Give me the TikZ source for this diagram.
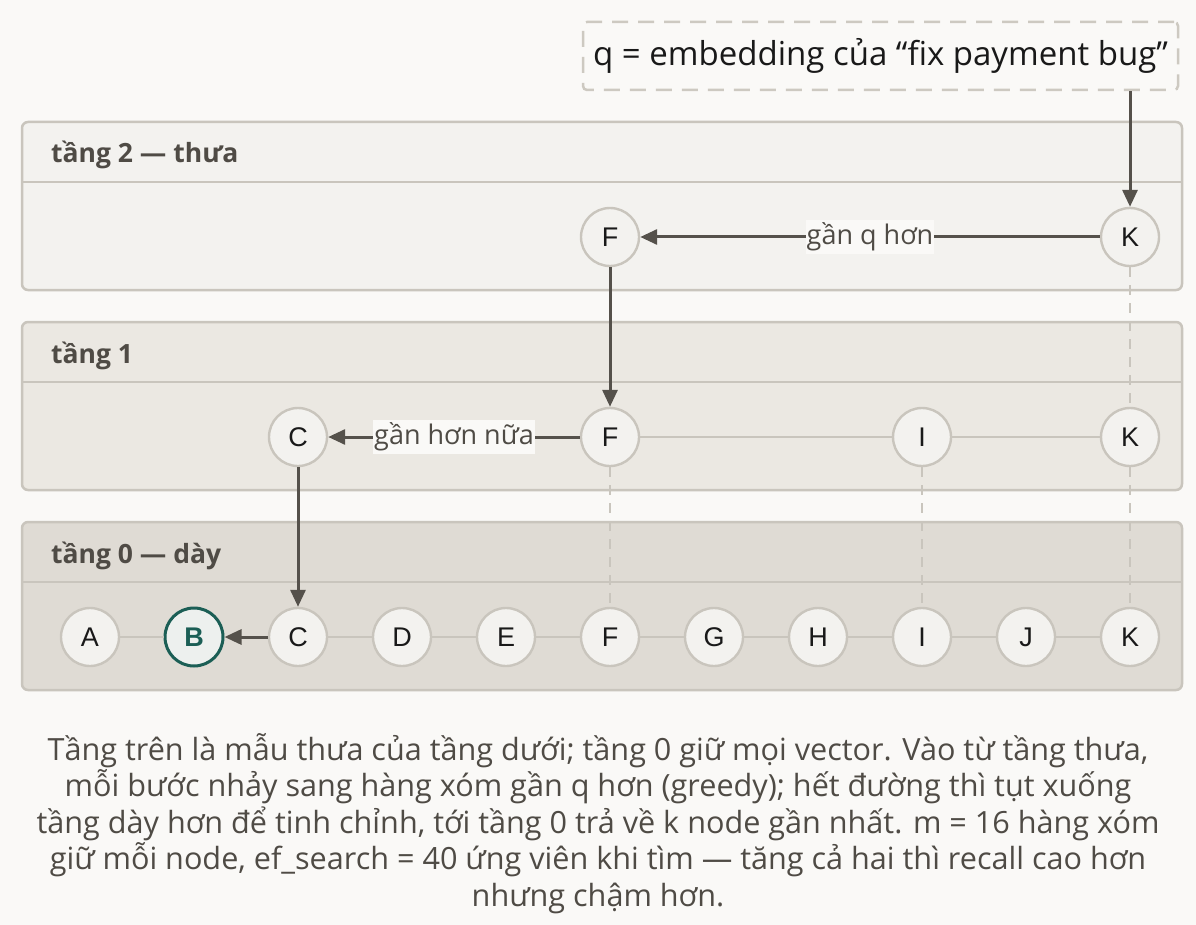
\documentclass[tikz,border=0pt]{standalone}
\usepackage{fontspec}
\setmainfont{Open Sans}
\newfontfamily\arialf{Liberation Sans}
\usetikzlibrary{arrows.meta}
\definecolor{bg}{HTML}{FAF9F7}
\definecolor{ltwo}{HTML}{F3F2EF}
\definecolor{lone}{HTML}{EBE8E2}
\definecolor{lzero}{HTML}{DFDBD4}
\definecolor{bord}{HTML}{C9C5BD}
\definecolor{nfill}{HTML}{F3F2EF}
\definecolor{dark}{HTML}{55514B}
\definecolor{txt}{HTML}{4F4B45}
\definecolor{teal}{HTML}{1B5E55}
\definecolor{tealfill}{HTML}{EDF0EE}
\definecolor{qdash}{HTML}{CDC9C1}
\tikzset{
  layerbox/.style={draw=bord, line width=2.5pt, rounded corners=6pt},
  divider/.style={draw=bord, line width=2.5pt},
  vnode/.style={circle, draw=bord, fill=nfill, line width=2.4pt, minimum size=58pt, inner sep=0pt, font=\arialf\fontsize{27}{27}\selectfont, text=black!90},
  bnode/.style={vnode, draw=teal, fill=tealfill, line width=3pt, text=teal, font=\arialf\bfseries\fontsize{27}{27}\selectfont},
  heading/.style={anchor=base west, text=txt, font=\bfseries\fontsize{26.5}{26.5}\selectfont, inner sep=0pt},
  lightline/.style={draw=bord, line width=2pt},
  vdash/.style={draw=bord, line width=2pt, dash pattern=on 10pt off 8pt},
  darkarrow/.style={draw=dark, line width=3pt, -{Triangle[length=17pt,width=15pt]}},
  elabel/.style={fill=bg, inner xsep=1pt, inner ysep=3pt, text=txt, font=\fontsize{27}{27}\selectfont},
  caption/.style={anchor=base, text=txt, font=\fontsize{30.6}{36}\selectfont, inner sep=0pt},
  qbox/.style={draw=qdash, line width=2.5pt, dash pattern=on 16pt off 10pt, rounded corners=4pt, fill=bg, minimum width=595pt, minimum height=68pt, inner sep=0pt, text=black!90, font=\fontsize{33}{33}\selectfont}
}
\begin{document}
\begin{tikzpicture}[x=1pt,y=-1pt]
\useasboundingbox (0,0) rectangle (1196,925);
\fill[bg] (0,0) rectangle (1196,925);

% layer boxes
\draw[layerbox, fill=ltwo] (22,122) rectangle (1182,290);
\draw[divider] (22,182) -- (1182,182);
\draw[layerbox, fill=lone] (22,322) rectangle (1182,490);
\draw[divider] (22,382) -- (1182,382);
\draw[layerbox, fill=lzero] (22,522) rectangle (1182,690);
\draw[divider] (22,582) -- (1182,582);

\node[heading] (h2) at (51,163) {tầng 2 — thưa};
\node[heading] (h1) at (51,363) {tầng 1};
\node[heading] (h0) at (51,563) {tầng 0 — dày};

% query
\node[qbox] (q) at (880.5,56) {q = embedding của “fix payment bug”};

% layer 2 nodes
\node[vnode] (F2) at (610,237) {F};
\node[vnode] (K2) at (1130,237) {K};
% layer 1 nodes
\node[vnode] (C1) at (298,437) {C};
\node[vnode] (F1) at (610,437) {F};
\node[vnode] (I1) at (922,437) {I};
\node[vnode] (K1) at (1130,437) {K};
% layer 0 nodes
\node[vnode] (A0) at (90,637) {A};
\node[bnode] (B0) at (194,637) {B};
\node[vnode] (C0) at (298,637) {C};
\node[vnode] (D0) at (402,637) {D};
\node[vnode] (E0) at (506,637) {E};
\node[vnode] (F0) at (610,637) {F};
\node[vnode] (G0) at (714,637) {G};
\node[vnode] (H0) at (818,637) {H};
\node[vnode] (I0) at (922,637) {I};
\node[vnode] (J0) at (1026,637) {J};
\node[vnode] (K0) at (1130,637) {K};

% light edges
\draw[lightline] (A0) -- (B0);
\draw[lightline] (C0) -- (D0);
\draw[lightline] (D0) -- (E0);
\draw[lightline] (E0) -- (F0);
\draw[lightline] (F0) -- (G0);
\draw[lightline] (G0) -- (H0);
\draw[lightline] (H0) -- (I0);
\draw[lightline] (I0) -- (J0);
\draw[lightline] (J0) -- (K0);
\draw[lightline] (F1) -- (I1);
\draw[lightline] (I1) -- (K1);

% dashed vertical links
\draw[vdash] (K2.south) -- (K1.north);
\draw[vdash] (F1.south) -- (F0.north);
\draw[vdash] (I1.south) -- (I0.north);
\draw[vdash] (K1.south) -- (K0.north);

% search path
\coordinate (qk) at (q.south -| K2);
\draw[darkarrow] (qk) -- (K2.north);
\draw[darkarrow] (K2) -- node[elabel] {gần q hơn} (F2);
\draw[darkarrow] (F2.south) -- (F1.north);
\draw[darkarrow] (F1) -- node[elabel] {gần hơn nữa} (C1);
\draw[darkarrow] (C1.south) -- (C0.north);
\draw[darkarrow] (C0) -- (B0);

% caption
\node[caption] (cap1) at (598,760) {Tầng trên là mẫu thưa của tầng dưới; tầng 0 giữ mọi vector. Vào từ tầng thưa,};
\node[caption] (cap2) at (598,796.5) {mỗi bước nhảy sang hàng xóm gần q hơn (greedy); hết đường thì tụt xuống};
\node[caption] (cap3) at (598,833) {tầng dày hơn để tinh chỉnh, tới tầng 0 trả về k node gần nhất. m = 16 hàng xóm};
\node[caption] (cap4) at (598,869.5) {giữ mỗi node, ef\_search = 40 ứng viên khi tìm — tăng cả hai thì recall cao hơn};
\node[caption] (cap5) at (598,906) {nhưng chậm hơn.};
\end{tikzpicture}
\end{document}
